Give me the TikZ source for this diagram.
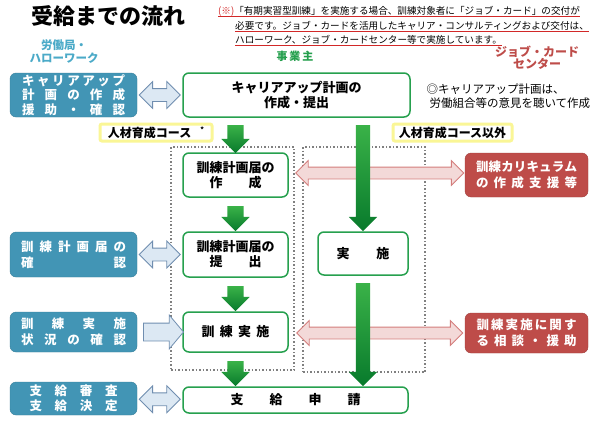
\documentclass[tikz,border=0pt]{standalone}
\usepackage{fontspec}
\setmainfont{Noto Sans CJK JP}
\usepackage{tikz}
\usetikzlibrary{shapes,arrows,positioning,calc}
\usepackage{xcolor}
\definecolor{hwteal}{RGB}{66,149,181}
\definecolor{hwhead}{RGB}{75,170,200}
\definecolor{jcred}{RGB}{190,76,73}
\definecolor{bizgreen}{RGB}{38,160,78}
\definecolor{arrtop}{RGB}{58,178,72}
\definecolor{arrbot}{RGB}{8,122,44}
\definecolor{pinkfill}{RGB}{243,217,216}
\definecolor{pinkline}{RGB}{212,125,124}
\definecolor{bluefill}{RGB}{220,232,243}
\definecolor{blueline}{RGB}{112,142,176}
\definecolor{zonegray}{RGB}{128,128,128}
\definecolor{glow}{RGB}{250,246,150}
\definecolor{noteul}{RGB}{210,40,40}
\newcommand{\spreadtext}[2]{\makebox[#1][s]{#2}}

\begin{document}
\begin{tikzpicture}[x=1pt, y=-1pt]
\tikzstyle{flow} = [rectangle, draw=bizgreen, line width=1.5pt, fill=white, rounded corners=6pt, align=center, inner sep=0pt, font=\fontsize{13}{15}\selectfont\bfseries]
\tikzstyle{office} = [rectangle, draw=hwteal!85!black, fill=hwteal, rounded corners=6pt, text=white, align=left, inner sep=0pt, font=\fontsize{12.5}{16}\selectfont\bfseries]
\tikzstyle{support} = [office, draw=jcred!85!black, fill=jcred]
\tikzstyle{zone} = [rectangle, draw=zonegray, dotted, line width=1.5pt, inner sep=0pt]
\tikzstyle{course} = [rectangle, draw=glow, line width=3pt, fill=white, rounded corners=2pt, inner sep=0pt, font=\fontsize{12}{14}\selectfont\bfseries]
\tikzstyle{godown} = [single arrow, shape border rotate=270, top color=arrtop, bottom color=arrbot, inner xsep=8pt, inner ysep=0pt, single arrow head extend=6pt]
\tikzstyle{bluepair} = [double arrow, draw=blueline, fill=bluefill, line width=0.8pt, inner xsep=0pt, inner ysep=6pt, double arrow head extend=7pt]
\tikzstyle{blueone} = [single arrow, draw=blueline, fill=bluefill, line width=0.8pt, inner xsep=0pt, inner ysep=8.5pt, single arrow head extend=8pt, single arrow tip angle=100]
\tikzstyle{pinkpair} = [double arrow, draw=pinkline, fill=pinkfill, line width=0.8pt, inner xsep=0pt, inner ysep=5.5pt, double arrow head extend=6.5pt]
\tikzstyle{note} = [anchor=base west, inner sep=0pt, font=\fontsize{9.6}{11}\selectfont]

\path[use as bounding box, fill=white] (0,0) rectangle (599,423);

\node[font=\fontsize{22}{24}\selectfont\bfseries] (title) at (108,16) {受給までの流れ};
\node[note] (note1) at (218,14.5) {\textcolor{noteul}{(※)}「有期実習型訓練」を実施する場合、訓練対象者に「ジョブ・カード」の交付が};
\node[note] (note2) at (235,29) {必要です。ジョブ・カードを活用したキャリア・コンサルティングおよび交付は、};
\node[note] (note3) at (235,43.5) {ハローワーク、ジョブ・カードセンター等で実施しています。};
\draw[noteul, line width=0.6pt] ([yshift=-2.2pt]note1.base west) -- ([yshift=-2.2pt]note1.base east);
\draw[noteul, line width=0.6pt] ([yshift=-2.2pt]note2.base west) -- ([yshift=-2.2pt]note2.base east);
\draw[noteul, line width=0.6pt] ([yshift=-2.2pt]note3.base west) -- ([yshift=-2.2pt]note3.base east);

\node[font=\fontsize{11.5}{13}\selectfont\bfseries, text=hwhead, align=center] (hwlabel) at (64,52) {労働局・\\ハローワーク};
\node[font=\fontsize{11}{13}\selectfont\bfseries, text=bizgreen] (bizlabel) at (295,56) {事\,業\,主};
\node[font=\fontsize{12}{12}\selectfont\bfseries, text=jcred, align=center] (jclabel) at (537,58) {ジョブ・カード\\センター};

\node[zone, minimum width=123pt, minimum height=223pt] (mkzone) at (232.5,258.5) {};
\node[zone, minimum width=122pt, minimum height=225pt] (impzone) at (364,259.5) {};

\node[flow, minimum width=227pt, minimum height=44pt] (plan) at (296.5,95) {キャリアアップ計画の\\作成・提出};
\node[flow, minimum width=105pt, minimum height=44pt] (mk) at (235.5,175) {訓練計画届の\\作\hspace{2em}成};
\node[flow, minimum width=105pt, minimum height=45pt] (sub) at (235.5,254.5) {訓練計画届の\\提\hspace{2em}出};
\node[flow, minimum width=105pt, minimum height=40pt] (run) at (235.5,332) {\spreadtext{68pt}{訓\hfil 練\hfil 実\hfil 施}};
\node[flow, minimum width=90pt, minimum height=43pt] (imp) at (363,253.5) {\spreadtext{53pt}{実\hfil 施}};
\node[flow, minimum width=225pt, minimum height=26pt] (apply) at (295.5,400) {\spreadtext{130pt}{支\hfil 給\hfil 申\hfil 請}};

\node[office, minimum width=127pt, minimum height=44pt] (lb1) at (73.5,95) {\spreadtext{103pt}{キ\hfil ャ\hfil リ\hfil ア\hfil ア\hfil ッ\hfil プ}\\[-1.3pt]\spreadtext{103pt}{計\hfil 画\hfil の\hfil 作\hfil 成}\\[-1.3pt]\spreadtext{103pt}{援\hfil 助\hfil ・\hfil 確\hfil 認}};
\node[office, minimum width=127pt, minimum height=45pt] (lb2) at (73.5,254.5) {\spreadtext{105pt}{訓\hfil 練\hfil 計\hfil 画\hfil 届\hfil の}\\\spreadtext{105pt}{確\hfil 認}};
\node[office, minimum width=127pt, minimum height=40pt] (lb3) at (73.5,332) {\spreadtext{105pt}{訓\hfil 練\hfil 実\hfil 施}\\\spreadtext{105pt}{状\hfil 況\hfil の\hfil 確\hfil 認}};
\node[office, minimum width=127pt, minimum height=33pt] (lb4) at (73.5,398.5) {\spreadtext{88pt}{支\hfil 給\hfil 審\hfil 査}\\[-1pt]\spreadtext{88pt}{支\hfil 給\hfil 決\hfil 定}};

\node[support, minimum width=123pt, minimum height=44pt] (rb1) at (526.5,175) {\spreadtext{101pt}{訓\hfil 練\hfil カ\hfil リ\hfil キ\hfil ュ\hfil ラ\hfil ム}\\\spreadtext{101pt}{の\hfil 作\hfil 成\hfil 支\hfil 援\hfil 等}};
\node[support, minimum width=123pt, minimum height=40pt] (rb2) at (526.5,333) {\spreadtext{100pt}{訓\hfil 練\hfil 実\hfil 施\hfil に\hfil 関\hfil す}\\\spreadtext{100pt}{る\hfil 相\hfil 談\hfil ・\hfil 援\hfil 助}};

\node[course, minimum width=112pt, minimum height=17pt] (hrd) at (156,132.5) {人材育成コース\hspace{9pt}\raisebox{5pt}{\fontsize{7}{7}\selectfont *}\hspace{6pt}};
\node[course, minimum width=119pt, minimum height=17pt] (hrdx) at (452.5,132.5) {人材育成コース以外};

\node[anchor=north west, align=left, font=\fontsize{11.5}{14.5}\selectfont] (consult) at (423,80) {◎キャリアアップ計画は、\\\hspace*{3pt}労働組合等の意見を聴いて作成};

\node[pinkpair, minimum height=168pt, yshift=2pt] (p1) at ($(mkzone.east |- rb1.west)!0.5!(rb1.west)$) {};
\node[pinkpair, minimum height=166pt] (p2) at ($(mkzone.east |- rb2.west)!0.5!(rb2.west)$) {};

\node[godown, minimum height=28pt] (g1) at ($(plan.south -| mk.north)!0.5!(mk.north)$) {};
\node[godown, minimum height=25pt] (g2) at ($(mk.south)!0.5!(sub.north)$) {};
\node[godown, minimum height=25pt] (g3) at ($(sub.south)!0.5!(run.north)$) {};
\node[godown, minimum height=25pt] (g4) at ($(run.south)!0.5!(apply.north -| run.south)$) {};
\node[godown, minimum height=106pt, inner xsep=7pt, single arrow head extend=7pt] (g5) at ($(plan.south -| imp.north)!0.5!(imp.north)$) {};
\node[godown, minimum height=103pt, inner xsep=7pt, single arrow head extend=7pt] (g6) at ($(imp.south)!0.5!(apply.north -| imp.south)$) {};

\node[bluepair, minimum height=41pt] (b1) at ($(lb1.east)!0.5!(plan.west)$) {};
\node[bluepair, minimum height=41pt] (b2) at ($(lb2.east)!0.5!(sub.west)$) {};
\node[blueone, minimum height=40pt] (b3) at ($(lb3.east)!0.5!(run.west)$) {};
\node[bluepair, minimum height=41pt] (b4) at ($(lb4.east)!0.5!(apply.west)$) {};
\end{tikzpicture}
\end{document}
